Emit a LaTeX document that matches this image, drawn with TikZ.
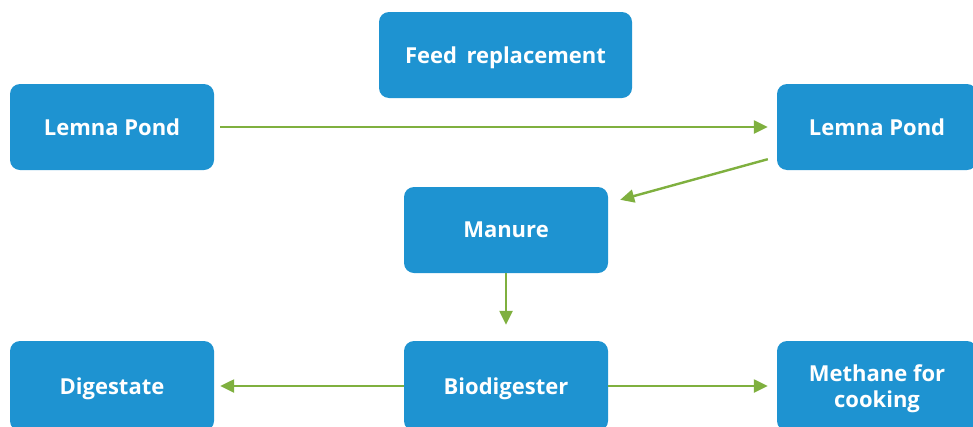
\documentclass[tikz,border=0pt]{standalone}
\usepackage{fontspec}
\setmainfont{Open Sans}
\usetikzlibrary{arrows.meta,calc}
\definecolor{boxblue}{HTML}{1E93D1}
\definecolor{arrgreen}{HTML}{7FB03F}
\begin{document}
\begin{tikzpicture}[x=1pt,y=-1pt,
  box/.style={fill=boxblue, draw=none, rounded corners=10pt, text=white,
    font=\bfseries\fontsize{22}{26}\selectfont, align=center, inner sep=0pt, text depth=0pt},
  arr/.style={draw=arrgreen, line width=2.4pt, -{Triangle[length=14pt,width=13pt]}}]
\useasboundingbox (0,0) rectangle (973,426);
\clip (0,0) rectangle (973,426);
\node[box, minimum width=204pt, minimum height=86pt] (LP1) at (112,127) {Lemna Pond};
\node[box, minimum width=200pt, minimum height=86pt] (LP2) at (877,127) {Lemna Pond};
\node[box, minimum width=253pt, minimum height=86pt] (FR) at (505.5,55) {Feed\, replacement};
\node[box, minimum width=204pt, minimum height=86pt] (MA) at (506,230) {Manure};
\node[box, minimum width=204pt, minimum height=90pt] (BD) at (506,386) {Biodigester};
\node[box, minimum width=204pt, minimum height=90pt] (DG) at (112,386) {Digestate};
\node[box, minimum width=200pt, minimum height=90pt] (ME) at (877,386) {Methane for\\cooking};
\draw[arr] ($(LP1.east)+(6,0)$) -- ($(LP2.west)+(-9,0)$);
\draw[arr] ($(LP2.south west)+(-9,-11)$) -- ($(MA.north east)+(12,13)$);
\draw[arr] (MA.south) -- ($(BD.north)+(0,-16)$);
\draw[arr] (BD.west) -- ($(DG.east)+(6,0)$);
\draw[arr] (BD.east) -- ($(ME.west)+(-9,0)$);
\end{tikzpicture}
\end{document}
